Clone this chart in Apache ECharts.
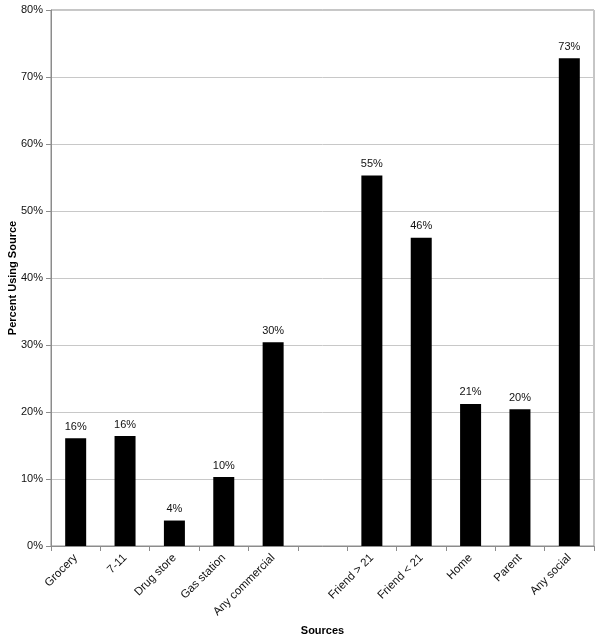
<!DOCTYPE html>
<html>
<head>
<meta charset="utf-8">
<script src="https://cdn.jsdelivr.net/npm/echarts@6/dist/echarts.min.js"></script>
<style>html,body{margin:0;padding:0;background:#fff;}#c{width:601px;height:640px;}</style>
</head>
<body>
<div id="c"></div>
<script>
const categories = ['Grocery', '7-11', 'Drug store', 'Gas station', 'Any commercial', '', 'Friend > 21', 'Friend < 21', 'Home', 'Parent', 'Any social'];
const values = [16.1, 16.4, 3.8, 10.3, 30.4, null, 55.3, 46.0, 21.2, 20.4, 72.8];
const yTicks = [0, 10, 20, 30, 40, 50, 60, 70, 80];

const chart = echarts.init(document.getElementById('c'), null, {renderer: 'canvas'});
const font = 'Liberation Sans, Arial, sans-serif';
chart.setOption({
  animation: false,
  backgroundColor: '#ffffff',
  grid: {left: 51, top: 10, right: 7, bottom: 94, show: true, borderColor: '#8c8c8c', borderWidth: 1,
         containLabel: false, outerBoundsMode: 'none'},
  xAxis: {
    type: 'category',
    data: categories,
    boundaryGap: true,
    name: 'Sources',
    nameLocation: 'middle',
    nameMoveOverlap: false,
    nameGap: 79,
    nameTextStyle: {fontFamily: font, fontSize: 11, fontWeight: 'bold', color: '#000'},
    axisLine: {lineStyle: {color: '#8c8c8c', width: 1}},
    axisTick: {show: true, alignWithLabel: false, length: 5, lineStyle: {color: '#8c8c8c'}},
    axisLabel: {rotate: 45, fontFamily: font, fontSize: 11.5, color: '#111', margin: 10, interval: 0}
  },
  yAxis: {
    type: 'value',
    min: yTicks[0],
    max: yTicks[yTicks.length - 1],
    interval: 10,
    name: 'Percent Using Source',
    nameLocation: 'middle',
    nameMoveOverlap: false,
    nameGap: 33,
    nameTextStyle: {fontFamily: font, fontSize: 11, fontWeight: 'bold', color: '#000'},
    axisLine: {show: true, lineStyle: {color: '#8c8c8c', width: 1}},
    axisTick: {show: true, length: 5, lineStyle: {color: '#8c8c8c'}},
    axisLabel: {formatter: v => v + '%', fontFamily: font, fontSize: 11, color: '#111', margin: 8},
    splitLine: {show: true, lineStyle: {color: '#c8c8c8', width: 1}}
  },
  series: [{
    type: 'bar',
    data: values,
    barWidth: 21,
    itemStyle: {color: '#000'},
    label: {
      show: true,
      position: 'top',
      distance: 6,
      fontFamily: font,
      fontSize: 11,
      color: '#111',
      formatter: p => p.value == null ? '' : Math.round(p.value) + '%'
    }
  }]
});
</script>
</body>
</html>
